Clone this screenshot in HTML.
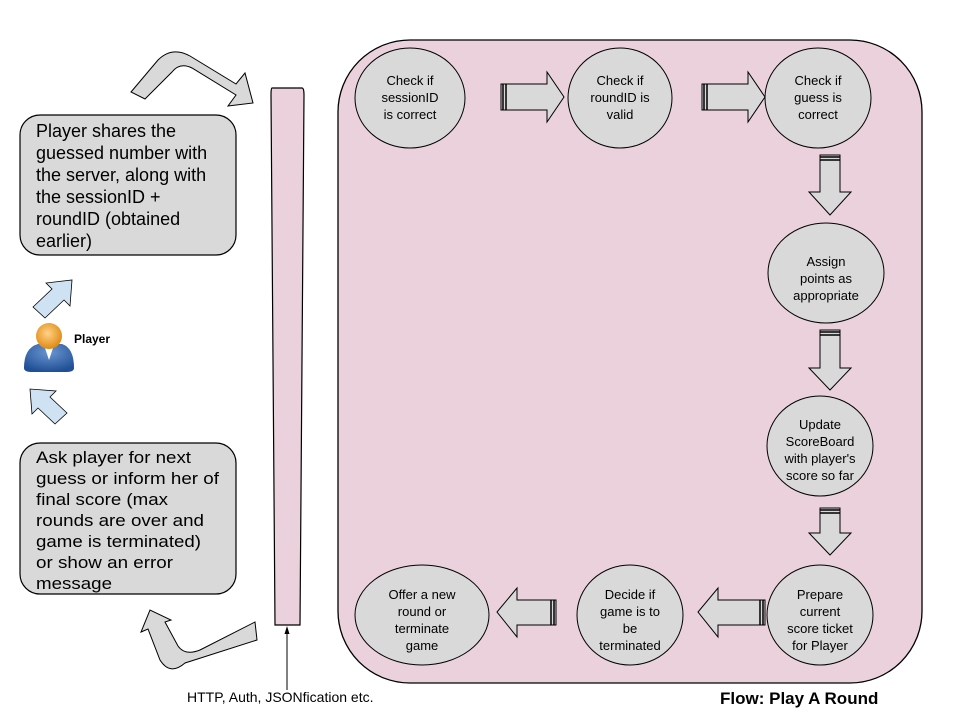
<!DOCTYPE html>
<html><head><meta charset="utf-8"><style>
html,body{margin:0;padding:0;background:#fff}
svg{display:block}
text{font-family:"Liberation Sans",sans-serif}
</style></head><body>
<svg width="960" height="720" viewBox="0 0 960 720" xmlns="http://www.w3.org/2000/svg">
<defs>
<radialGradient id="hd" cx="45%" cy="40%" r="60%"><stop offset="0" stop-color="#ffd28a"/><stop offset="1" stop-color="#e08a10"/></radialGradient>
<radialGradient id="bd" cx="50%" cy="30%" r="70%"><stop offset="0" stop-color="#6a95d0"/><stop offset="1" stop-color="#1f4f96"/></radialGradient>
</defs>
<rect x="338" y="40" width="584" height="643" rx="72" ry="72" fill="#ead1dc" stroke="#000" stroke-width="1.3"/>
<path d="M272 88 L302 88 Q304 88 304 95 L300 625 L275 625 L271 95 Q271 88 272 88 Z" fill="#ead1dc" stroke="#000" stroke-width="1.2"/>
<rect x="20" y="115" width="216" height="140" rx="20" fill="#d9d9d9" stroke="#000" stroke-width="1.2"/>
<g font-size="18" fill="#000">
<text x="36" y="137">Player shares the</text>
<text x="36" y="159">guessed number with</text>
<text x="36" y="181">the server, along with</text>
<text x="36" y="203">the sessionID +</text>
<text x="36" y="225">roundID (obtained</text>
<text x="36" y="247">earlier)</text>
</g>
<rect x="20" y="443" width="216" height="151" rx="20" fill="#d9d9d9" stroke="#000" stroke-width="1.2"/>
<g font-size="17" fill="#000">
<text x="36" y="463" textLength="155" lengthAdjust="spacingAndGlyphs">Ask player for next</text>
<text x="36" y="484" textLength="183" lengthAdjust="spacingAndGlyphs">guess or inform her of</text>
<text x="36" y="505" textLength="132" lengthAdjust="spacingAndGlyphs">final score (max</text>
<text x="36" y="526" textLength="168" lengthAdjust="spacingAndGlyphs">rounds are over and</text>
<text x="36" y="547" textLength="165" lengthAdjust="spacingAndGlyphs">game is terminated)</text>
<text x="36" y="568" textLength="137" lengthAdjust="spacingAndGlyphs">or show an error</text>
<text x="36" y="589" textLength="76" lengthAdjust="spacingAndGlyphs">message</text>
</g>
<path d="M24 368 Q24 348 38 344 L62 344 Q74 348 74 368 Q74 372 66 372 L32 372 Q24 372 24 368 Z" fill="url(#bd)"/>
<path d="M44 345 L49 360 L54 345 Z" fill="#fff"/>
<circle cx="49" cy="336" r="13" fill="url(#hd)"/>
<text x="74" y="343" font-size="12" font-weight="bold">Player</text>
<path d="M33 307 L52 289 L46 283 L72 280 L70 306 L64 300 L45 318 Z" fill="#cfe2f3" stroke="#000" stroke-width="0.8"/>
<path d="M67 413 L50 397 L56 391 L30 389 L32 414 L38 408 L55 424 Z" fill="#cfe2f3" stroke="#000" stroke-width="0.8"/>
<path d="M131 92 L158 60 Q172 46 190 56 L236 84 L245 73 L253 103 L228 106 L236 95 L192 68 Q180 62 172 72 L145 99 Z" fill="#d9d9d9" stroke="#000" stroke-width="1"/>
<path d="M257 640 L255 622 L200 650 Q185 656 178 646 L165 622 L171 620 L150 610 L141 632 L148 629 L160 660 Q170 676 185 663 Z" fill="#d9d9d9" stroke="#000" stroke-width="1"/>
<line x1="287" y1="690" x2="287" y2="628" stroke="#000" stroke-width="1"/>
<path d="M284.5 634 L287 626 L289.5 634 Z" fill="#000"/>
<text x="187" y="702" font-size="14">HTTP, Auth, JSONfication etc.</text>
<text x="720" y="704" font-size="17" font-weight="bold">Flow: Play A Round</text>
<g fill="#d9d9d9" stroke="#000" stroke-width="1">
<ellipse cx="410" cy="98" rx="55" ry="50"/>
<ellipse cx="620" cy="98" rx="52" ry="50"/>
<ellipse cx="818" cy="98" rx="53" ry="50"/>
<ellipse cx="826" cy="273" rx="58" ry="50"/>
<ellipse cx="820" cy="446" rx="53" ry="50"/>
<ellipse cx="820" cy="615" rx="53" ry="50"/>
<ellipse cx="630" cy="615" rx="53" ry="50"/>
<ellipse cx="422" cy="615" rx="67" ry="50"/>
</g>
<g font-size="13" text-anchor="middle" fill="#000">
<text x="410" y="85">Check if</text><text x="410" y="102">sessionID</text><text x="410" y="119">is correct</text>
<text x="620" y="85">Check if</text><text x="620" y="102">roundID is</text><text x="620" y="119">valid</text>
<text x="818" y="85">Check if</text><text x="818" y="102">guess is</text><text x="818" y="119">correct</text>
<text x="826" y="266">Assign</text><text x="826" y="283">points as</text><text x="826" y="300">appropriate</text>
<text x="820" y="444" textLength="0"></text>
<text x="820" y="429">Update</text><text x="820" y="446">ScoreBoard</text><text x="820" y="463">with player's</text><text x="820" y="480">score so far</text>
<text x="820" y="599">Prepare</text><text x="820" y="616">current</text><text x="820" y="633">score ticket</text><text x="820" y="650">for Player</text>
<text x="630" y="599">Decide if</text><text x="630" y="616">game is to</text><text x="630" y="633">be</text><text x="630" y="650">terminated</text>
<text x="422" y="599">Offer a new</text><text x="422" y="616">round or</text><text x="422" y="633">terminate</text><text x="422" y="650">game</text>
</g>
<g fill="#d9d9d9" stroke="#000" stroke-width="1">
<path d="M501 84 L547 84 L547 72 L564 97 L547 122 L547 110 L501 110 Z"/>
<path d="M702 84 L748 84 L748 72 L765 97 L748 122 L748 110 L702 110 Z"/>
<path d="M820 155 L840 155 L840 192 L851 192 L830 215 L809 192 L820 192 Z"/>
<path d="M820 330 L840 330 L840 368 L851 368 L830 390 L809 368 L820 368 Z"/>
<path d="M820 508 L840 508 L840 533 L851 533 L830 555 L809 533 L820 533 Z"/>
<path d="M765 600 L718 600 L718 588 L698 612 L718 637 L718 625 L765 625 Z"/>
<path d="M556 600 L517 600 L517 588 L497 612 L517 637 L517 625 L556 625 Z"/>
</g>
<g stroke="#000" stroke-width="1.5">
<line x1="503" y1="84" x2="503" y2="110"/><line x1="506" y1="84" x2="506" y2="110"/>
<line x1="704" y1="84" x2="704" y2="110"/><line x1="707" y1="84" x2="707" y2="110"/>
<line x1="820" y1="157" x2="840" y2="157"/><line x1="820" y1="160" x2="840" y2="160"/>
<line x1="820" y1="332" x2="840" y2="332"/><line x1="820" y1="335" x2="840" y2="335"/>
<line x1="820" y1="510" x2="840" y2="510"/><line x1="820" y1="513" x2="840" y2="513"/>
<line x1="763" y1="600" x2="763" y2="625"/><line x1="760" y1="600" x2="760" y2="625"/>
<line x1="554" y1="600" x2="554" y2="625"/><line x1="551" y1="600" x2="551" y2="625"/>
</g>
</svg>
</body></html>
